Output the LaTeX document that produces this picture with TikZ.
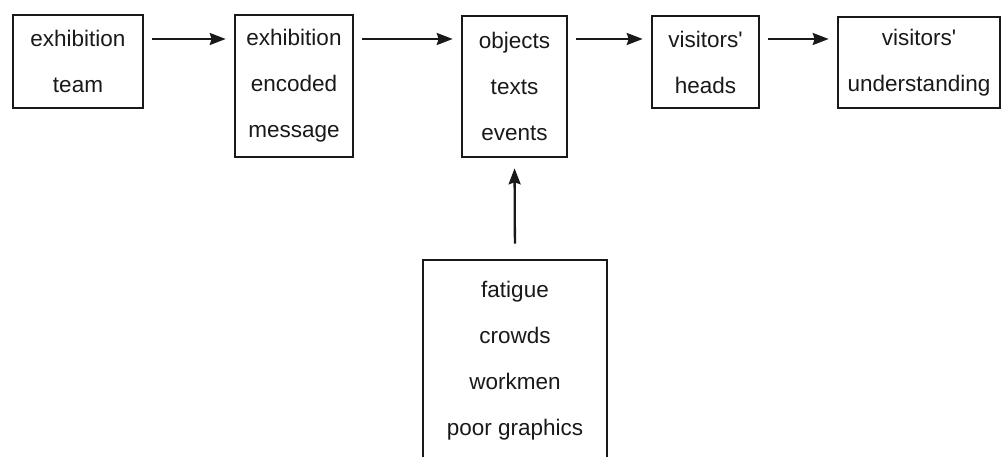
\documentclass[tikz,border=0pt]{standalone}
\usepackage{fontspec}
\setmainfont{Liberation Sans}[Ligatures=TeXOff]
\usepackage{xcolor}
\usetikzlibrary{positioning,arrows.meta,calc}

\begin{document}
\begin{tikzpicture}[
  x=1pt, y=-1pt,
  bloc/.style={
    draw=black!90, line width=2.6pt,
    align=center, inner sep=0pt,
    font=\fontsize{22.5}{46}\selectfont, text=black!90
  },
  fl/.style={-{Stealth[length=16pt,width=12pt,inset=2pt]}, line width=2.3pt,
    draw=black!90, shorten >=8pt, shorten <=8pt}
]
  \useasboundingbox (0,0) rectangle (1004,457);

  % --- Noeuds ---
  \node[bloc, minimum width=130pt, minimum height=93pt]  (team)  at (78, 61.5)
    {exhibition\\team};

  \node[bloc, minimum width=118pt, minimum height=142pt] (msg)   at (294, 86)
    {exhibition\\encoded\\message};

  \node[bloc, minimum width=105pt, minimum height=141pt] (obj)   at (514.5, 86.5)
    {objects\\texts\\events};

  \node[bloc, minimum width=107pt, minimum height=92pt]  (heads) at (705.5, 62)
    {visitors'\\heads};

  \node[bloc, minimum width=162pt, minimum height=91pt]  (under) at (919, 62.5)
    {visitors'\\understanding};

  \node[bloc, minimum width=184pt, minimum height=201pt] (noise) at (515, 360.5)
    {fatigue\\crowds\\workmen\\poor graphics};

  % --- Flèches ---
  \coordinate (lvl) at (0,39);

  \draw[fl] (team.east |- lvl)  -- (msg.west |- lvl);
  \draw[fl] (msg.east |- lvl)   -- (obj.west |- lvl);
  \draw[fl] (obj.east |- lvl)   -- (heads.west |- lvl);
  \draw[fl] (heads.east |- lvl) -- (under.west |- lvl);

  % bruit qui agit sur l'exposition
  \draw[fl, shorten <=15pt, shorten >=10pt] (noise.north) -- (obj.south);

\end{tikzpicture}
\end{document}
